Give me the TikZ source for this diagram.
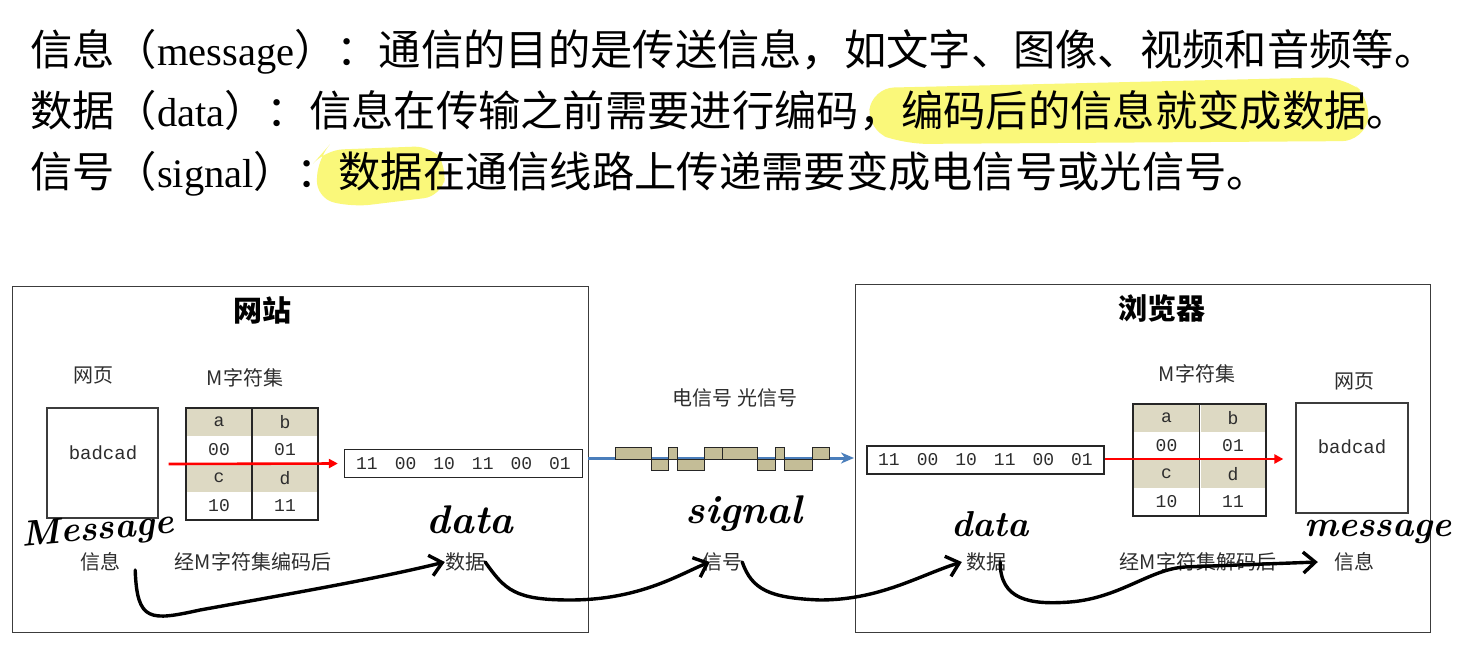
\documentclass[tikz,border=0pt]{standalone}
\usepackage{fontspec}
\newfontfamily\cjk{Noto Sans CJK SC}
\newfontfamily\tnr{Liberation Serif}
\newfontfamily\mono{Liberation Mono}
\usetikzlibrary{arrows.meta,calc}
\definecolor{hl}{RGB}{250,248,122}
\definecolor{shade}{RGB}{221,217,195}
\definecolor{wave}{RGB}{196,189,151}
\definecolor{lineblue}{RGB}{74,126,187}
\definecolor{boxgray}{RGB}{60,60,60}
\definecolor{lbl}{RGB}{45,45,45}
\tikzset{
  toptext/.style={anchor=base west, inner sep=0, font=\cjk\fontsize{42.3}{48}\selectfont},
  lat/.style={font=\tnr\fontsize{40.5}{48}\selectfont},
  outer/.style={draw=boxgray, line width=1pt, inner sep=0},
  title/.style={inner sep=0, font=\cjk\bfseries\fontsize{29}{30}\selectfont},
  lab/.style={inner sep=0, text=lbl, font=\cjk\fontsize{20}{22}\selectfont},
  pagebox/.style={draw=boxgray, line width=1.3pt, inner sep=0},
  tab/.style={draw=black!85, line width=1.4pt, inner sep=0},
  cell/.style={inner sep=0, minimum width=65, minimum height=27.5, text=lbl, font=\mono\fontsize{18}{18}\selectfont},
  monotxt/.style={inner sep=0, text=lbl, font=\mono\fontsize{19}{19}\selectfont},
  databox/.style={draw=black!85, line width=1.3pt, inner sep=0, text=lbl, font=\mono\fontsize{18}{18}\selectfont},
  redarrow/.style={red, line width=2.6pt, -{Triangle[length=9pt,width=9pt]}},
  bluearrow/.style={lineblue, line width=3pt, -{Stealth[length=13pt,width=11pt,inset=4pt]}},
  wavebox/.style={draw=black!85, fill=wave, line width=1pt},
  hand/.style={inner sep=0, font=\bfseries\itshape},
  handarrow/.style={black, line width=3.4pt, line cap=round, line join=round, -{Straight Barb[length=12pt,width=21pt,line width=3.4pt]}},
}
\newcommand{\pg}{\hspace{17pt}}
\newcommand{\latw}[1]{{\tnr\fontsize{40.5}{48}\selectfont #1}}
\begin{document}
\begin{tikzpicture}[x=1pt,y=-1pt]
\useasboundingbox (0,0) rectangle (1460,650);
\fill[white] (0,0) rectangle (1460,650);
% highlights
\fill[hl, rounded corners=22pt] (872,88) -- (1345,77) -- (1372,100) -- (1364,141) -- (905,144) -- (867,130) -- cycle;
\fill[hl, rounded corners=18pt] (325,150) -- (432,146) -- (447,165) -- (442,196) -- (352,207) -- (316,198) -- (318,158) -- cycle;
% top text
\node[toptext] (t1) at (30,66) {信息（\latw{message}）：通信的目的是传送信息，如文字、图像、视频和音频等。};
\node[toptext] (t2) at (30,127) {数据（\latw{data}）：信息在传输之前需要进行编码，编码后的信息就变成数据。};
\node[toptext] (t3) at (30,188) {信号（\latw{signal}）：数据在通信线路上传递需要变成电信号或光信号。};
% outer boxes
\node[outer, minimum width=576, minimum height=346] (L) at (300,459) {};
\node[outer, minimum width=575, minimum height=348] (R) at (1142.5,458) {};
\node[title] (Lt) at (262,310) {网站};
\node[title] (Rt) at (1162,308) {浏览器};
% left side
\node[lab] (Lwy) at (93,375) {网页};
\node[lab] (Lm) at (245,378) {M字符集};
\node[pagebox, minimum width=111, minimum height=110] (Lpage) at (102.5,463) {};
\node[monotxt] (Lbad) at (103,453) {badcad};
\node[cell, fill=shade] (La) at (219,422) {a};
\node[cell, fill=shade] (Lb) at (285,422) {b};
\node[cell] (La0) at (219,450) {00};
\node[cell] (Lb0) at (285,450) {01};
\node[cell, fill=shade] (Lc) at (219,478) {c};
\node[cell, fill=shade] (Ld) at (285,478) {d};
\node[cell] (Lc0) at (219,506) {10};
\node[cell] (Ld0) at (285,506) {11};
\node[tab, minimum width=132, minimum height=112] (Ltab) at (252,464) {};
\draw[black!85, line width=1.4pt] (Ltab.north) -- (Ltab.south);
\node[databox, minimum width=238, minimum height=28] (Ldata) at (463.5,463.5) {11\pg 00\pg 10\pg 11\pg 00\pg 01};
\draw[redarrow] ([xshift=10pt]Lpage.east |- 0,464) -- ([xshift=-6pt]Ldata.west);
% signal
\node[lab] (sig) at (735,398) {电信号 光信号};
\coordinate (bs) at (588,458);
\coordinate (be) at (854,458);
\draw[bluearrow] (bs) -- (be);
\foreach \a/\b in {615/651,668/677,704/722,722/757,775/784,812/829}
  \draw[wavebox] (\a,447.5) rectangle (\b,459);
\foreach \a/\b in {651/668,677/704,757/775,784/812}
  \draw[wavebox] (\a,459) rectangle (\b,470.5);
% right side
\node[databox, minimum width=237, minimum height=28] (Rdata) at (985.5,460) {11\pg 00\pg 10\pg 11\pg 00\pg 01};
\node[lab] (Rm) at (1197,374) {M字符集};
\node[lab] (Rwy) at (1354,381) {网页};
\node[cell, fill=shade] (Ra) at (1166.5,418) {a};
\node[cell, fill=shade] (Rb) at (1233,418) {b};
\node[cell] (Ra0) at (1166.5,446) {00};
\node[cell] (Rb0) at (1233,446) {01};
\node[cell, fill=shade] (Rc) at (1166.5,474) {c};
\node[cell, fill=shade] (Rd) at (1233,474) {d};
\node[cell] (Rc0) at (1166.5,502) {10};
\node[cell] (Rd0) at (1233,502) {11};
\node[tab, minimum width=133, minimum height=112] (Rtab) at (1199.5,460) {};
\draw[black!85, line width=1.4pt] (Rtab.north) -- (Rtab.south);
\node[pagebox, minimum width=112, minimum height=110] (Rpage) at (1352,458) {};
\node[monotxt] (Rbad) at (1352,447) {badcad};
\draw[redarrow] (Rdata.east |- 0,459) -- ([xshift=-12pt]Rpage.west |- 0,459);
% bottom labels
\node[lab] (Lxx) at (100,562) {信息};
\node[lab] (Lenc) at (253,562) {经M字符集编码后};
\node[lab] (Lsj) at (465,562) {数据};
\node[lab] (Sxh) at (722,562) {信号};
\node[lab] (Rsj) at (986,562) {数据};
\node[lab] (Rdec) at (1198,562) {经M字符集解码后};
\node[lab] (Rxx) at (1354,562) {信息};
% handwriting
\node[hand, rotate=5, font=\bfseries\itshape\fontsize{36}{36}\selectfont] (hM) at (98,531) {Message};
\node[hand, font=\bfseries\itshape\fontsize{40}{40}\selectfont] (hd1) at (470,520) {data};
\node[hand, font=\bfseries\itshape\fontsize{40}{40}\selectfont] (hs) at (744,514) {signal};
\node[hand, font=\bfseries\itshape\fontsize{36}{36}\selectfont] (hd2) at (990,524) {data};
\node[hand, font=\bfseries\itshape\fontsize{36}{36}\selectfont] (hm2) at (1378,532) {message};
% hand arrows
\draw[handarrow] ($(Lxx.east)+(15,8)$) .. controls (137,622) and (150,621) .. (200,610) .. controls (300,592) and (380,578) .. (Lsj.west);
\draw[handarrow] (Lsj.east) .. controls (505,590) and (515,600) .. (570,600) .. controls (640,600) and (680,574) .. ([xshift=8pt]Sxh.west);
\draw[handarrow] (Sxh.east) .. controls (752,590) and (770,598) .. (820,600) .. controls (880,600) and (920,575) .. ([xshift=-4pt]Rsj.west);
\draw[handarrow] ([xshift=-6pt]Rsj.east) .. controls (1000,600) and (1030,605) .. (1070,602) .. controls (1120,598) and (1150,569) .. (1185,567) -- ([xshift=-16pt]Rxx.west);
\end{tikzpicture}
\end{document}
